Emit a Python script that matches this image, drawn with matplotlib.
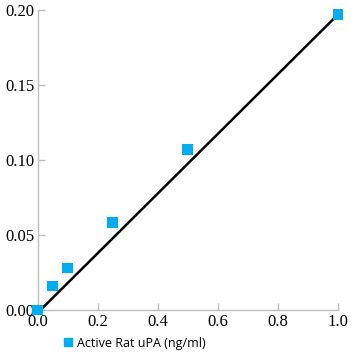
import matplotlib
matplotlib.use("Agg")
import matplotlib.pyplot as plt
from matplotlib.lines import Line2D

conc = [0.0, 0.05, 0.1, 0.25, 0.5, 1.0]
signal = [0.0, 0.016, 0.028, 0.0585, 0.107, 0.197]
fit_x = [0.01, 1.0]
fit_y = [0.0, 0.197]
xticks = [0.0, 0.2, 0.4, 0.6, 0.8, 1.0]
yticks = [0.00, 0.05, 0.10, 0.15, 0.20]
legend_label = "Active Rat uPA (ng/ml)"

blue = "#00aeef"
grey = "#bdbdbd"

fig = plt.figure(figsize=(3.6, 3.6), dpi=100)
ax = fig.add_axes([37.5/360, 50/360, 300.5/360, 300/360])
ax.plot(fit_x, fit_y, color="black", lw=1.8, clip_on=False, zorder=2)
ax.scatter(conc, signal, marker="s", s=60, color=blue, edgecolors="none", clip_on=False, zorder=3)
ax.set_xlim(0, 1.0)
ax.set_ylim(0, 0.20)
ax.set_xticks(xticks)
ax.set_xticklabels([f"{v:.1f}" for v in xticks])
ax.set_yticks(yticks)
ax.set_yticklabels([f"{v:.2f}" for v in yticks])
for s in ["top", "right"]:
    ax.spines[s].set_visible(False)
for s in ["left", "bottom"]:
    ax.spines[s].set_color(grey)
    ax.spines[s].set_linewidth(1)
ax.tick_params(direction="in", length=5, color=grey, width=1, labelsize=12)
ax.tick_params(axis="y", pad=2)
ax.tick_params(axis="x", pad=3)
for lab in ax.get_xticklabels() + ax.get_yticklabels():
    lab.set_family("Liberation Serif")
handle = Line2D([], [], marker="s", ls="none", color=blue, markersize=5.5)
fig.legend([handle], [legend_label], loc="center left", bbox_to_anchor=(58/360, 17/360),
           frameon=False, prop={"family": "Open Sans", "size": 9}, handletextpad=0.3,
           borderaxespad=0, handlelength=0.8)
fig.savefig("out.png", dpi=100)
